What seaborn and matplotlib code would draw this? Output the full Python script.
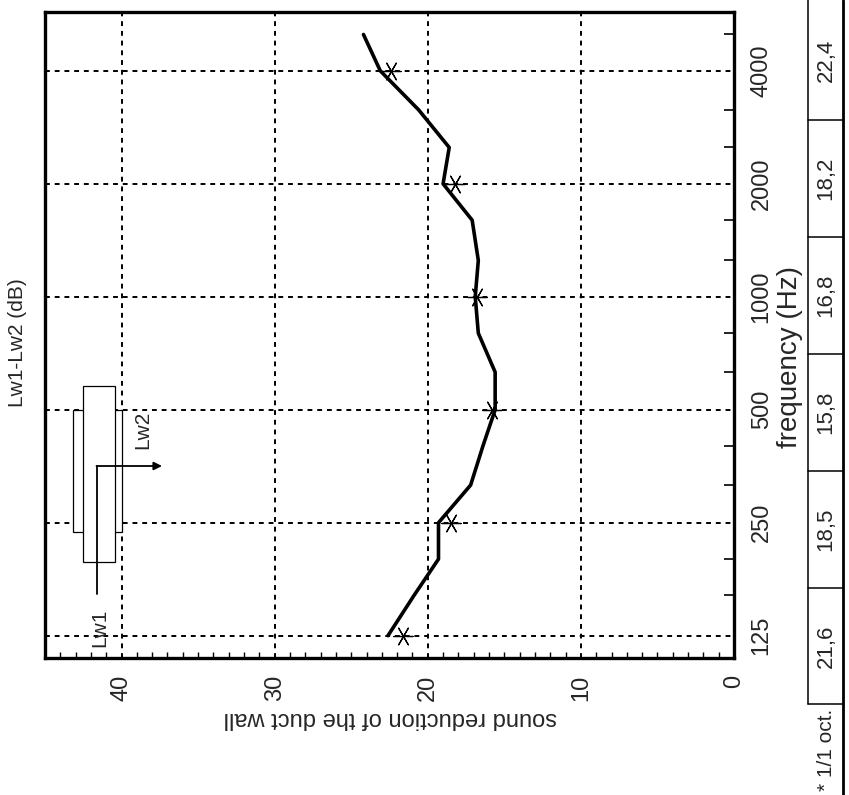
import matplotlib
matplotlib.use("Agg")
import matplotlib.pyplot as plt
import seaborn as sns
import numpy as np
import pandas as pd
from matplotlib.ticker import FixedLocator, NullFormatter
from matplotlib.patches import Rectangle, FancyArrowPatch
from matplotlib.lines import Line2D

sns.set_style("white")
plt.rcParams["font.family"] = ["Liberation Sans", "DejaVu Sans"]

# ---------------- data ----------------
third_freqs = [125, 160, 200, 250, 315, 400, 500, 630, 800, 1000, 1250, 1600,
               2000, 2500, 3150, 4000, 5000]
third_values = [22.6, 20.9, 19.3, 19.3, 17.2, 16.4, 15.6, 15.6, 16.7, 16.9, 16.7,
                17.1, 19.0, 18.6, 20.6, 23.1, 24.2]
octave_freqs = [125, 250, 500, 1000, 2000, 4000]
octave_values = [21.6, 18.5, 15.8, 16.8, 18.2, 22.4]
value_ticks = [0, 10, 20, 30, 40]
minor_freqs = [160, 200, 315, 400, 630, 800, 1250, 1600, 2500, 3150, 5000]

W, H = 849, 795


def px(x, y):
    return (x / W, 1 - y / H)


fig = plt.figure(figsize=(W / 100, H / 100), dpi=100)
fig.patch.set_facecolor("white")
ax = fig.add_axes([45 / W, 1 - 658 / H, (734 - 45) / W, (658 - 12) / H])
ax.set_facecolor("white")

df_third = pd.DataFrame({"value": third_values, "freq": third_freqs})
df_oct = pd.DataFrame({"value": octave_values, "freq": octave_freqs})

ax.set_yscale("log", base=2)

# grid lines
for v in value_ticks[1:]:
    ax.axvline(v, color="black", lw=1.4, ls=(0, (2.5, 2.5)), zorder=1)
for f in octave_freqs:
    ax.axhline(f, color="black", lw=1.4, ls=(0, (2.5, 2.5)), zorder=1)

sns.lineplot(data=df_third, x="value", y="freq", sort=False, estimator=None,
             color="black", lw=2.6, ax=ax, zorder=3)
sns.scatterplot(data=df_oct, x="value", y="freq", marker=(6, 2, 30), s=190,
                color="black", linewidth=0.9, ax=ax, zorder=4)

ax.set_xlim(45, 0)
ax.set_ylim(109, 5740)

# axis ticks
ax.set_xticks(value_ticks)
ax.set_xticklabels([str(v) for v in value_ticks], rotation=90, fontsize=17)
ax.xaxis.set_minor_locator(FixedLocator(list(range(1, 45))))
ax.tick_params(axis="x", which="major", direction="in", length=0, pad=12)
ax.tick_params(axis="x", which="minor", direction="in", length=4, width=1,
               color="black", bottom=True)

ax.yaxis.tick_right()
ax.set_yticks(octave_freqs)
ax.set_yticklabels([str(f) for f in octave_freqs], rotation=90, fontsize=17,
                   va="center")
ax.yaxis.set_minor_locator(FixedLocator(minor_freqs))
ax.yaxis.set_minor_formatter(NullFormatter())
ax.tick_params(axis="y", which="major", direction="in", length=0, pad=12,
               right=True, left=False)
ax.tick_params(axis="y", which="minor", direction="in", length=7, width=1.2,
               color="black", right=True, left=False)
ax.set_xlabel("")
ax.set_ylabel("")

for s in ax.spines.values():
    s.set_visible(True)
    s.set_color("black")
    s.set_linewidth(2.4)

# ---------------- texts ----------------
fig.text(*px(18, 343), "Lw1-Lw2 (dB)", rotation=90, ha="center", va="center",
         fontsize=15)
fig.text(*px(390, 718), "sound reduction of the duct wall", rotation=180,
         ha="center", va="center", fontsize=17)
fig.text(*px(790, 357), "frequency (Hz)", rotation=90, ha="center",
         va="center", fontsize=20)

# ---------------- octave value table ----------------
edges = [0, 120, 237, 354, 471, 588, 704]
xl, xr = 808, 843
fig.add_artist(Line2D([xl / W, xl / W], [1, 1 - 704 / H], color="black",
                      lw=1.1, transform=fig.transFigure))
fig.add_artist(Line2D([xr / W, xr / W], [1, 0], color="black", lw=2.0,
                      transform=fig.transFigure))
for e in edges[1:]:
    fig.add_artist(Line2D([xl / W, xr / W], [1 - e / H, 1 - e / H],
                          color="black", lw=1.1, transform=fig.transFigure))
labels_oct = [f"{v:.1f}".replace(".", ",") for v in octave_values[::-1]]
for i, lab in enumerate(labels_oct):
    yc = (edges[i] + edges[i + 1]) / 2
    fig.text(*px(826, yc), lab, rotation=90, ha="center", va="center",
             fontsize=16)
fig.text(*px(826, 750), "* 1/1 oct.", rotation=90, ha="center", va="center",
         fontsize=15)

# ---------------- duct schematic ----------------
fig.add_artist(Rectangle(px(73, 532), 49 / W, 122 / H, transform=fig.transFigure,
                         facecolor="white", edgecolor="black", lw=0.9, zorder=5))
fig.add_artist(Rectangle(px(83, 562), 32 / W, 176 / H, transform=fig.transFigure,
                         facecolor="white", edgecolor="black", lw=0.9, zorder=6))
fig.add_artist(Line2D([97 / W, 97 / W], [1 - 594 / H, 1 - 466 / H],
                      color="black", lw=1.3, transform=fig.transFigure, zorder=7))
fig.add_artist(FancyArrowPatch(px(96.5, 466), px(162, 466),
                               transform=fig.transFigure, arrowstyle="-|>",
                               lw=1.3, color="black", mutation_scale=12,
                               shrinkA=0, shrinkB=0, zorder=7))
fig.text(*px(100, 628), "Lw1", rotation=90, ha="center", va="center",
         fontsize=15, zorder=8)
fig.text(*px(143, 430), "Lw2", rotation=90, ha="center", va="center",
         fontsize=15, zorder=8)

fig.savefig("out.png", dpi=100)
